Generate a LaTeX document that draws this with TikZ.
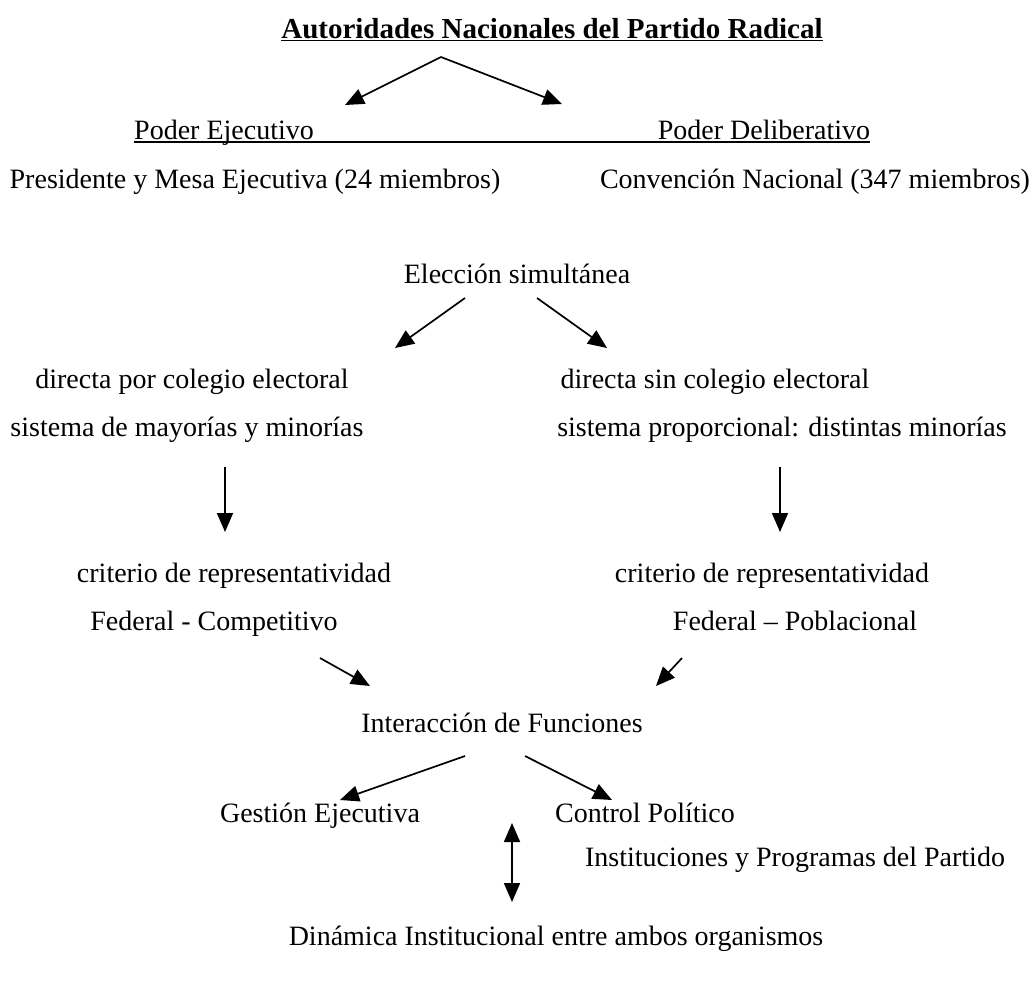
\documentclass[tikz,border=0pt]{standalone}
\usepackage{fontspec}
\setmainfont{Liberation Serif}
\usetikzlibrary{arrows.meta}

\begin{document}
\begin{tikzpicture}[
  x=1pt, y=-1pt,
  font=\fontsize{28}{33}\selectfont,
  lbl/.style={inner sep=0pt, anchor=base},
  link/.style={-{Triangle[length=19pt,width=16pt]}, line width=1.7pt},
  both/.style={{Triangle[length=19pt,width=16pt]}-{Triangle[length=19pt,width=16pt]}, line width=1.7pt}
]
  \useasboundingbox (0,0) rectangle (1032,983);

  \node[lbl, font=\fontsize{29}{34}\selectfont\bfseries] (title) at (552,38)
        {\underline{Autoridades Nacionales del Partido Radical}};
  \node[lbl] (pe)   at (224,139) {Poder Ejecutivo};
  \node[lbl] (pd)   at (764,139) {Poder Deliberativo};
  \node[lbl] (pres) at (255,188) {Presidente y Mesa Ejecutiva (24 miembros)};
  \node[lbl] (conv) at (815,188) {Convención Nacional (347 miembros)};

  \node[lbl] (elec) at (517,283) {Elección simultánea};
  \node[lbl] (dir1) at (192,388) {directa por colegio electoral};
  \node[lbl] (dir2) at (715,388) {directa sin colegio electoral};
  \node[lbl] (sis1) at (187,436) {sistema de mayorías y minorías};
  \node[lbl] (sis2) at (782,436) {sistema proporcional: distintas minorías};

  \node[lbl] (crit1) at (234,582) {criterio de representatividad};
  \node[lbl] (crit2) at (772,582) {criterio de representatividad};
  \node[lbl] (fed1)  at (214,630) {Federal - Competitivo};
  \node[lbl] (fed2)  at (795,630) {Federal – Poblacional};

  \node[lbl] (inter) at (502,732) {Interacción de Funciones};
  \node[lbl] (gest)  at (320,822) {Gestión Ejecutiva};
  \node[lbl] (ctrl)  at (645,822) {Control Político};
  \node[lbl] (inst)  at (795,866) {Instituciones y Programas del Partido};
  \node[lbl] (din)   at (556,945) {Dinámica Institucional entre ambos organismos};

  \coordinate (top)  at (441,57);
  \coordinate (topl) at (345,105);
  \coordinate (topr) at (562,104);
  \coordinate (ell)  at (465,298);
  \coordinate (elr)  at (537,298);
  \coordinate (ellt) at (395,348);
  \coordinate (elrt) at (607,348);
  \coordinate (vl)   at (225,467);
  \coordinate (vlt)  at (225,532);
  \coordinate (vr)   at (780,467);
  \coordinate (vrt)  at (780,532);
  \coordinate (fl)   at (320,658);
  \coordinate (flt)  at (370,686);
  \coordinate (fr)   at (682,658);
  \coordinate (frt)  at (656,686);
  \coordinate (il)   at (465,756);
  \coordinate (ilt)  at (340,800);
  \coordinate (ir)   at (525,756);
  \coordinate (irt)  at (612,800);
  \coordinate (dtop) at (512,823);
  \coordinate (dbot) at (512,902);

  \draw[line width=1.5pt] ([yshift=-3pt]pe.base west) -- ([yshift=-3pt]pe.base west -| pd.base east);

  \draw[link] (top) -- (topl);
  \draw[link] (top) -- (topr);
  \draw[link] (ell) -- (ellt);
  \draw[link] (elr) -- (elrt);
  \draw[link] (vl) -- (vlt);
  \draw[link] (vr) -- (vrt);
  \draw[link] (fl) -- (flt);
  \draw[link] (fr) -- (frt);
  \draw[link] (il) -- (ilt);
  \draw[link] (ir) -- (irt);
  \draw[both] (dtop) -- (dbot);
\end{tikzpicture}
\end{document}
